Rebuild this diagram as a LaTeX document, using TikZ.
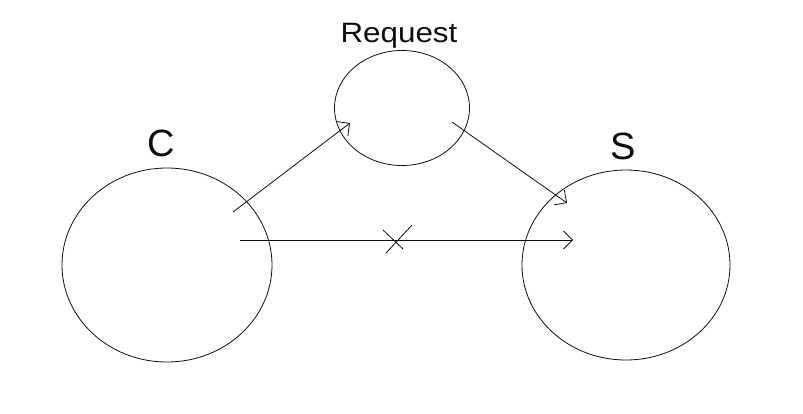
\documentclass[tikz,border=0pt]{standalone}
\usepackage{fontspec}
\setmainfont{Liberation Sans}
\usetikzlibrary{arrows.meta, shapes.geometric, calc}
\definecolor{penBlack}{gray}{0.05}

\begin{document}
\begin{tikzpicture}[x=1pt, y=-1pt, >={Straight Barb[length=9pt, width=18pt]},
    blob/.style={draw=penBlack, line width=0.8pt, ellipse, inner sep=0pt},
    tag/.style={font=\fontsize{38}{38}\selectfont, text=penBlack},
    pen/.style={line width=0.8pt, penBlack}]
    \useasboundingbox (0,0) rectangle (803,413);

    % Parties
    \node[blob, minimum width=210pt, minimum height=194pt] (c) at (167,265) {};
    \node[blob, minimum width=135pt, minimum height=115pt] (req) at (402,108) {};
    \node[blob, minimum width=208pt, minimum height=190pt] (s) at (626,265) {};

    % Labels
    \node[tag] (cLabel) at (161,143) {C};
    \node[tag] (sLabel) at (623,146) {S};
    \node[tag, font=\fontsize{28}{28}\selectfont, xscale=1.12] (reqLabel) at (399,36) {Request};

    % Arrow ends
    \coordinate (cOut) at (233,212);
    \coordinate (reqIn) at (350,123);
    \coordinate (reqOut) at (452,122);
    \coordinate (sIn) at (567,203);
    \coordinate (cDirect) at (240,240);
    \coordinate (sDirect) at (573,240);
    \coordinate (block) at (396,240);

    % Via request
    \draw[->, pen] (cOut) -- (reqIn);
    \draw[->, pen] (reqOut) -- (sIn);

    % Direct path (blocked)
    \draw[->, pen] (cDirect) -- (sDirect);
    \draw[pen] ($(block)+(-13,-10)$) -- ($(block)+(7,9)$);
    \draw[pen] ($(block)+(16,-15)$) -- ($(block)+(-10,13)$);
\end{tikzpicture}
\end{document}
